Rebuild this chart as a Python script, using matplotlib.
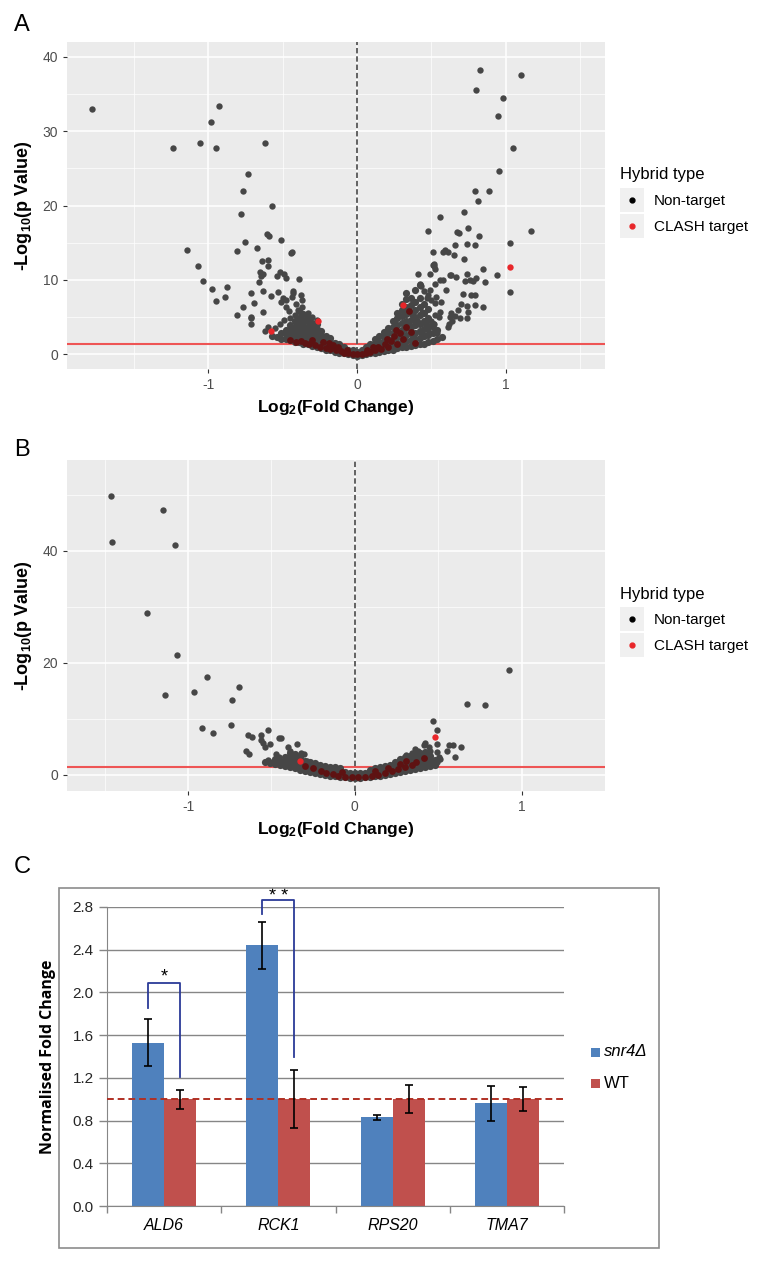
import numpy as np
import matplotlib
matplotlib.use('Agg')
import matplotlib.pyplot as plt
from matplotlib.patches import Rectangle
from matplotlib.lines import Line2D

plt.rcParams['font.family'] = ['Liberation Sans', 'DejaVu Sans']
plt.rcParams['axes.unicode_minus'] = False
plt.rcParams['mathtext.fontset'] = 'custom'
plt.rcParams['mathtext.rm'] = 'Liberation Sans:bold'
plt.rcParams['mathtext.it'] = 'Liberation Sans:bold'
plt.rcParams['mathtext.bf'] = 'Liberation Sans:bold'

# ---------------- Panel A data (log2 fold change, -log10 p) ----------------
a_nontarget = [
    (-1.785, 33.0), (-0.93, 33.4), (-0.985, 31.3), (-1.24, 27.7), (-1.056, 28.4), (-0.948, 27.7), (-0.62, 28.4),
    (-0.736, 24.2), (-0.765, 22.0), (-0.57, 20.0), (-0.78, 18.9), (-1.14, 14.0), (-0.75, 15.1),
    (-0.605, 16.1), (-0.59, 15.9), (-0.51, 15.3), (-0.67, 14.3), (-0.805, 13.9), (-0.445, 13.6), (-0.435, 13.8),
    (-1.067, 11.9), (-0.64, 12.5), (-0.60, 12.6), (-0.60, 11.8), (-1.038, 9.9),
    (-0.65, 11.1), (-0.63, 10.8), (-0.645, 10.5), (-0.515, 11.0), (-0.49, 10.8), (-0.535, 10.5), (-0.475, 10.3),
    (-0.39, 10.1), (-0.66, 9.7), (-0.973, 8.7), (-0.873, 9.0), (-0.63, 8.5), (-0.53, 8.3), (-0.43, 8.5),
    (-0.713, 8.2), (-0.89, 7.7), (-0.945, 7.1), (-0.58, 7.8), (-0.50, 7.5), (-0.48, 7.3), (-0.51, 7.0),
    (-0.44, 7.7), (-0.43, 8.2), (-0.38, 7.9), (-0.37, 7.3), (-0.69, 6.9), (-0.41, 6.7), (-0.765, 6.4),
    (-0.475, 6.4), (-0.46, 5.8), (-0.807, 5.2), (-0.63, 5.7), (-0.714, 5.0), (-0.71, 4.8), (-0.71, 4.0),
    (-0.49, 4.6), (-0.62, 3.1), (-0.60, 3.6), (-0.55, 3.5), (-0.52, 4.0), (-0.45, 4.9), (-0.42, 5.3),
    (-0.40, 5.9), (-0.37, 6.3), (-0.33, 5.6), (-0.30, 5.0), (-0.27, 4.6),
    (0.826, 38.2), (1.103, 37.6), (0.80, 35.5), (0.978, 34.4), (0.95, 32.1), (1.05, 27.7), (0.955, 24.7),
    (0.79, 21.9), (0.884, 22.0), (0.81, 20.6), (0.56, 18.5), (0.72, 19.1), (0.477, 16.6), (0.673, 16.4),
    (0.684, 16.3), (0.745, 17.0), (1.172, 16.6), (0.823, 15.9), (0.66, 14.7), (0.737, 14.8), (0.79, 14.7),
    (1.03, 14.9), (0.51, 13.8), (0.58, 13.8), (0.594, 14.0), (0.61, 13.7), (0.655, 13.3), (0.72, 12.8),
    (0.52, 11.9), (0.515, 12.1), (0.846, 11.5), (0.94, 10.7), (0.41, 10.8), (0.49, 10.8), (0.635, 10.6),
    (0.664, 10.4), (0.737, 10.8), (0.80, 10.3), (0.725, 9.9), (0.76, 10.0), (0.778, 9.9), (0.86, 9.7),
    (0.525, 9.5), (0.58, 10.0), (1.027, 8.4), (0.715, 8.1), (0.766, 7.9), (0.795, 7.9), (0.43, 9.2),
    (0.452, 8.5), (0.475, 7.9), (0.53, 7.7), (0.50, 7.3), (0.522, 6.9), (0.567, 7.0), (0.70, 6.8),
    (0.74, 6.5), (0.79, 6.6), (0.85, 6.3), (0.68, 5.9), (0.745, 5.7), (0.557, 5.7), (0.527, 5.2),
    (0.63, 5.5), (0.657, 5.1), (0.69, 4.9), (0.74, 4.8), (0.62, 4.0), (0.61, 3.6), (0.64, 4.4),
    (0.50, 4.4), (0.52, 4.0), (0.48, 3.3), (0.512, 12.0), (0.523, 11.5), (0.423, 9.5), (0.557, 10.0),
    (0.595, 8.6), (0.624, 10.6), (0.49, 8.6), (0.468, 7.5), (0.434, 5.7), (0.553, 5.0), (0.624, 5.0),
    (0.512, 3.7), (0.535, 2.8),
]
# dense cloud near the origin
a_band = [
    (0.00, -0.2), (0.00, 0.3), (-0.03, -0.1), (-0.03, 0.5), (-0.06, 0.0), (-0.06, 0.6),
    (-0.09, 0.1), (-0.09, 0.7), (-0.09, 1.0), (-0.12, 0.2), (-0.12, 0.8), (-0.12, 1.3),
    (-0.15, 0.3), (-0.15, 0.9), (-0.15, 1.5), (-0.18, 0.5), (-0.18, 1.1), (-0.18, 1.7), (-0.18, 2.2),
    (-0.21, 0.6), (-0.21, 1.2), (-0.21, 1.8), (-0.21, 2.4), (-0.24, 0.8), (-0.24, 1.4), (-0.24, 2.0),
    (-0.24, 2.6), (-0.24, 3.1), (-0.27, 1.0), (-0.27, 1.6), (-0.27, 2.2), (-0.27, 2.8), (-0.27, 3.4),
    (-0.27, 4.0), (-0.30, 1.1), (-0.30, 1.7), (-0.30, 2.3), (-0.30, 2.9), (-0.30, 3.5), (-0.30, 4.2),
    (-0.33, 1.3), (-0.33, 1.9), (-0.33, 2.5), (-0.33, 3.1), (-0.33, 3.7), (-0.33, 4.4), (-0.33, 5.0),
    (-0.36, 1.4), (-0.36, 2.0), (-0.36, 2.6), (-0.36, 3.3), (-0.36, 3.9), (-0.36, 4.6), (-0.36, 5.4),
    (-0.39, 1.6), (-0.39, 2.2), (-0.39, 2.8), (-0.39, 3.5), (-0.39, 4.2), (-0.39, 4.9), (-0.39, 5.8),
    (-0.42, 1.7), (-0.42, 2.4), (-0.42, 3.0), (-0.42, 3.7), (-0.42, 4.4), (-0.45, 1.9), (-0.45, 2.6),
    (-0.45, 3.2), (-0.45, 3.9), (-0.48, 2.0), (-0.48, 2.7), (-0.48, 3.3), (-0.51, 2.1), (-0.51, 2.8),
    (-0.54, 2.3), (-0.57, 2.4), (-0.195, 1.45), (-0.255, 1.9), (-0.315, 2.0), (-0.375, 2.5),
    (-0.285, 3.1), (-0.345, 3.5), (-0.405, 3.8),
    (0.03, -0.1), (0.03, 0.5), (0.06, 0.0), (0.06, 0.6), (0.06, 1.0), (0.09, 0.1), (0.09, 0.7), (0.09, 1.3),
    (0.12, 0.2), (0.12, 0.8), (0.12, 1.5), (0.12, 2.0), (0.15, 0.3), (0.15, 1.0), (0.15, 1.7), (0.15, 2.4),
    (0.18, 0.4), (0.18, 1.1), (0.18, 1.8), (0.18, 2.5), (0.18, 3.0), (0.21, 0.5), (0.21, 1.2), (0.21, 2.0),
    (0.21, 2.8), (0.21, 3.5), (0.24, 0.6), (0.24, 1.3), (0.24, 2.1), (0.24, 2.9), (0.24, 3.7), (0.24, 4.4),
    (0.27, 0.8), (0.27, 1.5), (0.27, 2.3), (0.27, 3.1), (0.27, 3.9), (0.27, 4.8), (0.27, 5.6),
    (0.30, 0.9), (0.30, 1.6), (0.30, 2.4), (0.30, 3.3), (0.30, 4.2), (0.30, 5.1), (0.30, 6.0), (0.30, 6.8),
    (0.33, 1.0), (0.33, 1.8), (0.33, 2.6), (0.33, 3.5), (0.33, 4.4), (0.33, 5.4), (0.33, 6.4), (0.33, 7.4),
    (0.33, 8.2), (0.36, 1.1), (0.36, 1.9), (0.36, 2.8), (0.36, 3.7), (0.36, 4.6), (0.36, 5.6), (0.36, 6.6),
    (0.36, 7.6), (0.39, 1.2), (0.39, 2.0), (0.39, 2.9), (0.39, 3.9), (0.39, 4.9), (0.39, 5.9), (0.39, 7.0),
    (0.39, 8.6), (0.42, 1.3), (0.42, 2.2), (0.42, 3.1), (0.42, 4.1), (0.42, 5.2), (0.42, 6.3), (0.42, 7.5),
    (0.42, 9.3), (0.45, 1.4), (0.45, 2.4), (0.45, 3.4), (0.45, 4.5), (0.45, 5.6), (0.45, 6.8),
    (0.48, 1.6), (0.48, 2.6), (0.48, 3.7), (0.48, 4.9), (0.48, 6.1), (0.51, 1.8), (0.51, 2.9), (0.51, 4.1),
    (0.54, 2.0), (0.54, 3.2), (0.57, 2.3), (0.255, 1.9), (0.315, 2.0), (0.375, 2.4), (0.435, 2.7),
    (0.345, 4.0), (0.405, 4.4), (0.375, 5.3), (0.465, 4.0), (0.195, 1.5),
]
a_clash = [(-0.58, 3.1), (-0.26, 4.4), (0.31, 6.6), (1.03, 11.7)]
a_clash_band = [
    (-0.45, 1.9), (-0.41, 1.7), (-0.38, 1.8), (-0.35, 1.5), (-0.32, 1.4), (-0.30, 1.9), (-0.28, 1.2),
    (-0.25, 1.0), (-0.23, 1.6), (-0.21, 0.8), (-0.18, 0.7), (-0.16, 1.2), (-0.14, 0.5), (-0.11, 0.4),
    (-0.09, 0.2), (-0.06, 0.1), (-0.03, 0.0), (0.00, 0.0), (0.03, 0.0), (0.06, 0.2), (0.09, 0.3),
    (0.12, 0.5), (0.14, 1.0), (0.16, 0.7), (0.19, 1.3), (0.21, 0.9), (0.23, 1.8), (0.25, 2.4),
    (0.27, 1.4), (0.29, 2.9), (0.31, 2.0), (0.33, 3.6), (0.36, 3.0), (0.35, 5.8), (0.26, 3.2),
    (0.20, 2.0), (0.39, 1.5), (-0.13, 0.9), (-0.07, 0.5), (0.07, 0.6), (0.11, 1.0), (-0.19, 1.5),
]

# ---------------- Panel B data ----------------
b_nontarget = [
    (-1.462, 49.7), (-1.454, 41.5), (-1.148, 47.3), (-1.077, 41.0), (-1.245, 28.9), (-1.066, 21.3),
    (-1.137, 14.2), (-0.964, 14.7), (-0.884, 17.5), (-0.693, 15.6), (-0.737, 13.4), (-0.916, 8.4),
    (-0.849, 7.5), (-0.743, 8.9), (-0.64, 7.1), (-0.615, 6.8), (-0.562, 7.0), (-0.56, 6.2), (-0.55, 5.6),
    (-0.54, 5.0), (-0.521, 7.9), (-0.509, 5.4), (-0.456, 6.5), (-0.44, 6.5), (-0.652, 4.3), (-0.633, 3.7),
    (-0.523, 2.6), (-0.51, 2.2), (-0.47, 3.7), (-0.453, 3.1), (-0.40, 5.0), (-0.39, 4.3), (-0.38, 3.7),
    (-0.346, 5.5), (-0.32, 3.8), (-0.302, 3.7), (-0.285, 2.4),
    (0.923, 18.75), (0.675, 12.7), (0.783, 12.4), (0.469, 9.6), (0.492, 8.0), (0.495, 5.4), (0.423, 5.7),
    (0.414, 5.2), (0.446, 4.9), (0.453, 4.3), (0.564, 5.3), (0.587, 5.3), (0.635, 5.0), (0.552, 4.3),
    (0.60, 3.2), (0.343, 3.9), (0.308, 3.5), (0.49, 4.0), (0.502, 3.2), (0.513, 2.8), (0.493, 2.2),
    (0.38, 4.3), (0.36, 4.6),
]
b_band = [
    (0.00, -0.6), (0.00, 0.2), (-0.03, -0.6), (-0.03, 0.3), (-0.06, -0.5), (-0.06, 0.4),
    (-0.09, -0.4), (-0.09, 0.5), (-0.09, 1.1), (-0.12, -0.3), (-0.12, 0.5), (-0.12, 1.3),
    (-0.15, -0.2), (-0.15, 0.6), (-0.15, 1.4), (-0.18, 0.0), (-0.18, 0.8), (-0.18, 1.6),
    (-0.21, 0.1), (-0.21, 0.9), (-0.21, 1.8), (-0.24, 0.3), (-0.24, 1.1), (-0.24, 2.0),
    (-0.27, 0.5), (-0.27, 1.3), (-0.27, 2.2), (-0.30, 0.7), (-0.30, 1.5), (-0.30, 2.4),
    (-0.33, 0.9), (-0.33, 1.7), (-0.33, 2.6), (-0.33, 3.2), (-0.36, 1.1), (-0.36, 1.9), (-0.36, 2.8),
    (-0.36, 3.6), (-0.39, 1.3), (-0.39, 2.1), (-0.39, 3.0), (-0.39, 3.8), (-0.42, 1.5), (-0.42, 2.3),
    (-0.42, 3.2), (-0.45, 1.7), (-0.45, 2.5), (-0.48, 1.9), (-0.48, 2.7), (-0.51, 2.1), (-0.54, 2.3),
    (0.03, -0.6), (0.03, 0.2), (0.06, -0.5), (0.06, 0.3), (0.09, -0.4), (0.09, 0.4), (0.09, 0.9),
    (0.12, -0.3), (0.12, 0.5), (0.12, 1.1), (0.15, -0.2), (0.15, 0.6), (0.15, 1.3), (0.18, -0.1),
    (0.18, 0.7), (0.18, 1.5), (0.21, 0.1), (0.21, 0.9), (0.21, 1.7), (0.24, 0.2), (0.24, 1.0),
    (0.24, 1.9), (0.24, 2.3), (0.27, 0.4), (0.27, 1.2), (0.27, 2.1), (0.27, 2.7), (0.30, 0.6),
    (0.30, 1.4), (0.30, 2.3), (0.30, 3.1), (0.33, 0.8), (0.33, 1.6), (0.33, 2.5), (0.33, 3.4),
    (0.36, 1.0), (0.36, 1.8), (0.36, 2.7), (0.36, 3.6), (0.39, 1.2), (0.39, 2.0), (0.39, 2.9),
    (0.39, 3.8), (0.42, 1.4), (0.42, 2.2), (0.42, 3.1), (0.42, 4.0), (0.45, 1.6), (0.45, 2.4),
    (0.45, 3.3), (0.48, 1.8), (0.48, 2.6),
]
b_clash = [(-0.33, 2.5), (0.481, 6.7)]
b_clash_band = [
    (-0.30, 1.6), (-0.25, 1.2), (-0.20, 0.7), (-0.17, 0.3), (-0.13, 0.1), (-0.10, -0.2), (-0.06, -0.4),
    (-0.02, -0.5), (0.02, -0.5), (0.06, -0.4), (0.10, -0.2), (0.14, 0.0), (0.18, 0.3), (0.22, 0.6),
    (0.26, 1.0), (0.30, 1.3), (0.34, 1.7), (0.20, 1.2), (0.12, 0.6), (-0.08, 0.4), (0.27, 1.9),
    (0.308, 2.5), (0.366, 2.2), (0.414, 3.0),
]
p_threshold = 1.3  # -log10(0.05)

# ---------------- Panel C data ----------------
genes = ['ALD6', 'RCK1', 'RPS20', 'TMA7']
snr4_mean = [1.53, 2.44, 0.83, 0.96]
snr4_err = [0.22, 0.22, 0.02, 0.165]
wt_mean = [1.0, 1.0, 1.0, 1.0]
wt_err = [0.09, 0.27, 0.13, 0.11]

W, H = 772, 1264
fig = plt.figure(figsize=(W / 100, H / 100), dpi=100)


def fig_box(x0, y0, x1, y1):
    # pixel box -> figure fraction [left, bottom, width, height]
    return [x0 / W, 1 - y1 / H, (x1 - x0) / W, (y1 - y0) / H]


def volcano(ax, nontarget, band, clash, clash_band, xlim, ylim, yticks, yminor):
    ax.set_facecolor('#EBEBEB')
    ax.set_xlim(*xlim)
    ax.set_ylim(*ylim)
    ax.set_xticks([-1, 0, 1])
    ax.set_xticks([-1.5, -0.5, 0.5, 1.5], minor=True)
    ax.set_yticks(yticks)
    ax.set_yticks(yminor, minor=True)
    ax.grid(which='major', color='white', lw=1.1)
    ax.grid(which='minor', color='white', lw=0.5)
    ax.set_axisbelow(True)
    for s in ax.spines.values():
        s.set_visible(False)
    ax.tick_params(which='major', length=3, width=0.8, color='#333333', labelcolor='#4D4D4D', labelsize=10)
    ax.tick_params(which='minor', length=0)
    ax.axhline(p_threshold, color='#EE5555', lw=1.5, zorder=2)
    ax.axvline(0, color='#555555', lw=1.3, ls=(0, (3, 1.6)), zorder=2)
    x, y = zip(*band)
    ax.scatter(x, y, s=27, color='#464646', lw=0, zorder=3)
    x, y = zip(*nontarget)
    ax.scatter(x, y, s=21, color='#464646', lw=0, zorder=3)
    x, y = zip(*clash_band)
    ax.scatter(x, y, s=24, color='#5E1212', lw=0, zorder=4)
    x, y = zip(*clash)
    ax.scatter(x, y, s=21, color='#E8262A', lw=0, zorder=5)
    ax.set_xlabel('Log$_2$(Fold Change)', fontsize=12.5, fontweight='bold', labelpad=4)
    ax.set_ylabel('-Log$_{10}$(p Value)', fontsize=13, fontweight='bold', labelpad=6)


def hybrid_legend(y_title):
    fig.text(620 / W, 1 - y_title / H, 'Hybrid type', fontsize=12, va='center', ha='left')
    for i, (lab, col) in enumerate([('Non-target', 'black'), ('CLASH target', '#E8262A')]):
        top = y_title + 13 + i * 26
        fig.add_artist(Rectangle((620 / W, 1 - (top + 24) / H), 24 / W, 24 / H,
                                 transform=fig.transFigure, facecolor='#F0F0F0', edgecolor='none'))
        fig.add_artist(Line2D([632 / W], [1 - (top + 12) / H], transform=fig.transFigure,
                              marker='o', markersize=3.5, color=col, lw=0))
        fig.text(654 / W, 1 - (top + 13) / H, lab, fontsize=11, va='center', ha='left')


# Panel A
axA = fig.add_axes(fig_box(67, 42, 605, 369))
volcano(axA, a_nontarget, a_band, a_clash, a_clash_band, (-1.95, 1.667), (-2.0, 42.0),
        [0, 10, 20, 30, 40], [5, 15, 25, 35])
hybrid_legend(175)
fig.text(22 / W, 1 - 25 / H, 'A', fontsize=17, ha='center', va='center')

# Panel B
axB = fig.add_axes(fig_box(67, 460, 605, 791))
volcano(axB, b_nontarget, b_band, b_clash, b_clash_band, (-1.726, 1.129), (-2.93, 56.2),
        [0, 20, 40], [10, 30, 50])
hybrid_legend(594)
fig.text(22 / W, 1 - 450 / H, 'B', fontsize=17, ha='center', va='center')

# Panel C
fig.text(22 / W, 1 - 867 / H, 'C', fontsize=17, ha='center', va='center')
fig.add_artist(Rectangle((59 / W, 1 - 1248 / H), 600 / W, 360 / H, transform=fig.transFigure,
                         facecolor='none', edgecolor='#8C8C8C', lw=1.2))
axC = fig.add_axes(fig_box(107, 907, 564, 1206))
pos = np.arange(len(genes))
bw = 0.28
blue, red = '#4F81BD', '#C0504D'
axC.bar(pos - bw / 2, snr4_mean, bw, color=blue, zorder=3)
axC.bar(pos + bw / 2, wt_mean, bw, color=red, zorder=3)
axC.errorbar(pos - bw / 2, snr4_mean, yerr=snr4_err, fmt='none', ecolor='black', elinewidth=1.2,
             capsize=3, capthick=1.2, zorder=5)
axC.errorbar(pos + bw / 2, wt_mean, yerr=wt_err, fmt='none', ecolor='black', elinewidth=1.2,
             capsize=3, capthick=1.2, zorder=5)
axC.set_xlim(-0.5, 3.5)
axC.set_ylim(0, 2.8)
axC.set_yticks(np.arange(0, 2.81, 0.4))
axC.set_yticklabels(['%.1f' % v for v in np.arange(0, 2.81, 0.4)])
axC.yaxis.grid(True, color='#868686', lw=1.0)
axC.set_axisbelow(True)
axC.set_xticks(pos)
axC.set_xticklabels(genes, fontstyle='italic', fontsize=11.5)
axC.set_xticks([-0.5, 0.5, 1.5, 2.5, 3.5], minor=True)
axC.tick_params(axis='x', which='major', length=0, pad=9)
axC.tick_params(axis='x', which='minor', length=5, color='#868686', width=1)
axC.tick_params(axis='y', length=6, color='#868686', width=1, labelsize=11, labelcolor='#262626')
for s in ['top', 'right']:
    axC.spines[s].set_visible(False)
axC.spines['left'].set_color('#868686')
axC.spines['bottom'].set_color('#868686')
axC.spines['bottom'].set_zorder(4)
axC.axhline(1.0, color='#B03024', lw=1.4, ls=(0, (3.5, 2)), zorder=4)
axC.set_ylabel('Normalised Fold Change', fontsize=11.5, fontweight='bold', labelpad=12,
               fontfamily='Open Sans')

# significance brackets
bracket_col = '#2B3A97'
axC.plot([0 - bw / 2, 0 - bw / 2, 0 + bw / 2, 0 + bw / 2], [1.85, 2.09, 2.09, 1.205],
         color=bracket_col, lw=1.3, zorder=6, clip_on=False)
axC.text(0, 2.14, '*', ha='center', va='center', fontsize=13)
axC.plot([1 - bw / 2, 1 - bw / 2, 1 + bw / 2, 1 + bw / 2], [2.73, 2.865, 2.865, 1.40],
         color=bracket_col, lw=1.3, zorder=6, clip_on=False)
axC.text(1, 2.895, '* *', ha='center', va='center', fontsize=13)

# legend for panel C
for i, (lab, col) in enumerate([('snr4\u0394', blue), ('WT', red)]):
    yc = 1052 + i * 31
    fig.add_artist(Rectangle((591 / W, 1 - (yc + 4.5) / H), 9 / W, 9 / H, transform=fig.transFigure,
                             facecolor=col, edgecolor='none'))
    fig.text(604 / W, 1 - yc / H, lab, fontsize=12, va='center', ha='left',
             fontstyle='italic' if i == 0 else 'normal')

fig.savefig('out.png', dpi=100)
